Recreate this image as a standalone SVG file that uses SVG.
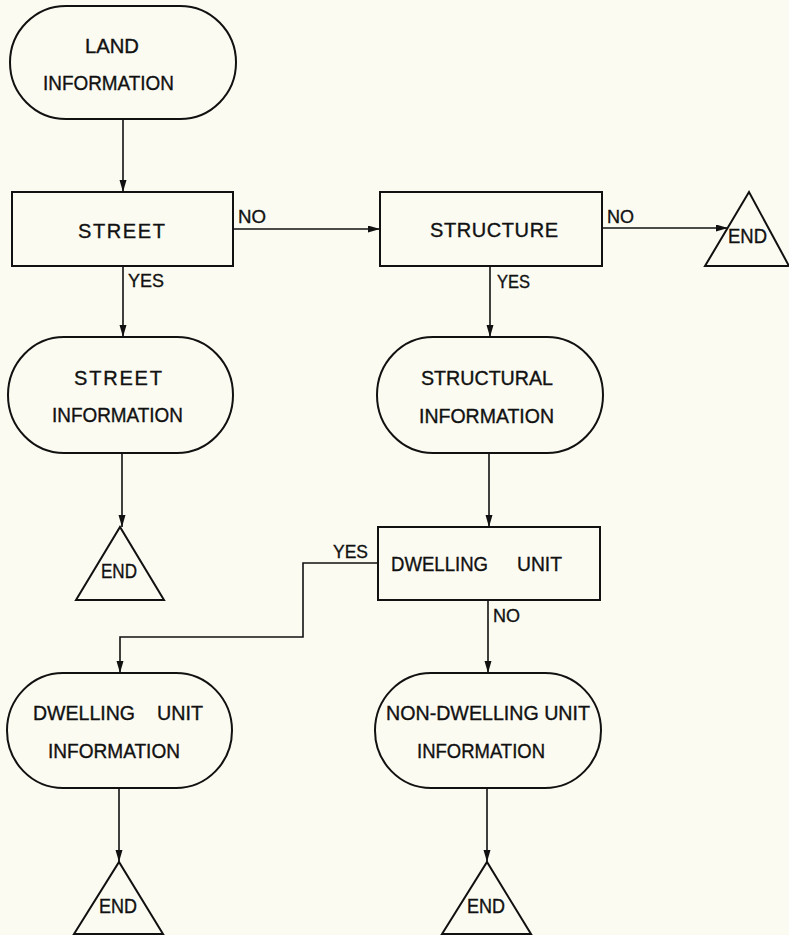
<svg xmlns="http://www.w3.org/2000/svg" width="789" height="935" viewBox="0 0 789 935">
<style>
.bg{fill:#fbfbf1}
.shape{fill:none;stroke:#111;stroke-width:2}
.line{fill:none;stroke:#111;stroke-width:1.6}
text{font-family:"Liberation Sans","DejaVu Sans",Arial,sans-serif;fill:#111;stroke:#111;stroke-width:0.35;font-size:20px}
.lbl{font-size:19px}
</style>
<defs>
<marker id="arr" markerUnits="userSpaceOnUse" markerWidth="13" markerHeight="8" refX="12" refY="3.5" orient="auto">
<path d="M0,0 L12,3.5 L0,7 z" fill="#111"/>
</marker>
</defs>
<rect class="bg" x="0" y="0" width="789" height="935"/>

<g id="connectors">
<path class="line" d="M123,119 V192" marker-end="url(#arr)"/>
<path class="line" d="M123,266 V337" marker-end="url(#arr)"/>
<path class="line" d="M233,229 H380" marker-end="url(#arr)"/>
<path class="line" d="M602,228 H728" marker-end="url(#arr)"/>
<path class="line" d="M490,266 V337" marker-end="url(#arr)"/>
<path class="line" d="M122,453 V527" marker-end="url(#arr)"/>
<path class="line" d="M489,453 V527" marker-end="url(#arr)"/>
<path class="line" d="M378,563 H303 V637 H120 V673" marker-end="url(#arr)"/>
<path class="line" d="M488,600 V673" marker-end="url(#arr)"/>
<path class="line" d="M119,788 V862" marker-end="url(#arr)"/>
<path class="line" d="M487,788 V862" marker-end="url(#arr)"/>
<text class="lbl" x="238" y="223" textLength="28" lengthAdjust="spacingAndGlyphs">NO</text>
<text class="lbl" x="128" y="287" textLength="36" lengthAdjust="spacingAndGlyphs">YES</text>
<text class="lbl" x="607" y="223" textLength="27" lengthAdjust="spacingAndGlyphs">NO</text>
<text class="lbl" x="497" y="288" textLength="33" lengthAdjust="spacingAndGlyphs">YES</text>
<text class="lbl" x="333" y="558" textLength="35" lengthAdjust="spacingAndGlyphs">YES</text>
<text class="lbl" x="493" y="622" textLength="27" lengthAdjust="spacingAndGlyphs">NO</text>
</g>

<g id="land-information">
<rect class="shape" x="10" y="6" width="226" height="113" rx="56" ry="56.5"/>
<text x="85" y="53" textLength="54" lengthAdjust="spacingAndGlyphs">LAND</text>
<text x="43" y="90" textLength="131" lengthAdjust="spacingAndGlyphs">INFORMATION</text>
</g>

<g id="street">
<rect class="shape" x="12" y="192" width="221" height="74"/>
<text x="78" y="238" textLength="87" lengthAdjust="spacing">STREET</text>
</g>

<g id="structure">
<rect class="shape" x="380" y="192" width="222" height="74"/>
<text x="430" y="237" textLength="128" lengthAdjust="spacing">STRUCTURE</text>
</g>

<g id="end-structure">
<path class="shape" d="M705,266 L749,192 L789,266 Z"/>
<text x="728" y="243" textLength="39" lengthAdjust="spacingAndGlyphs">END</text>
</g>

<g id="street-information">
<rect class="shape" x="8" y="337" width="225" height="116" rx="56" ry="58"/>
<text x="74" y="385" textLength="88" lengthAdjust="spacing">STREET</text>
<text x="52" y="422" textLength="131" lengthAdjust="spacingAndGlyphs">INFORMATION</text>
</g>

<g id="structural-information">
<rect class="shape" x="377" y="337" width="226" height="116" rx="56" ry="58"/>
<text x="421" y="385" textLength="132" lengthAdjust="spacingAndGlyphs">STRUCTURAL</text>
<text x="419" y="423" textLength="135" lengthAdjust="spacingAndGlyphs">INFORMATION</text>
</g>

<g id="end-street">
<path class="shape" d="M76,600 L120,527 L164,600 Z"/>
<text x="101" y="578" textLength="36" lengthAdjust="spacingAndGlyphs">END</text>
</g>

<g id="dwelling-unit">
<rect class="shape" x="378" y="527" width="222" height="73"/>
<text y="571"><tspan x="391" textLength="97" lengthAdjust="spacingAndGlyphs">DWELLING</tspan><tspan x="517" textLength="45" lengthAdjust="spacingAndGlyphs">UNIT</tspan></text>
</g>

<g id="dwelling-unit-information">
<rect class="shape" x="7" y="673" width="225" height="115" rx="56" ry="57.5"/>
<text y="720"><tspan x="33" textLength="102" lengthAdjust="spacingAndGlyphs">DWELLING</tspan><tspan x="157" textLength="46" lengthAdjust="spacingAndGlyphs">UNIT</tspan></text>
<text x="48" y="758" textLength="132" lengthAdjust="spacingAndGlyphs">INFORMATION</text>
</g>

<g id="non-dwelling-unit-information">
<rect class="shape" x="375" y="673" width="226" height="115" rx="56" ry="57.5"/>
<text x="386" y="720" textLength="204" lengthAdjust="spacingAndGlyphs">NON-DWELLING UNIT</text>
<text x="417" y="758" textLength="128" lengthAdjust="spacingAndGlyphs">INFORMATION</text>
</g>

<g id="end-dwelling">
<path class="shape" d="M74,934 L119,862 L163,934 Z"/>
<text x="99" y="913" textLength="38" lengthAdjust="spacingAndGlyphs">END</text>
</g>

<g id="end-non-dwelling">
<path class="shape" d="M442,934 L487,862 L531,934 Z"/>
<text x="467" y="913" textLength="38" lengthAdjust="spacingAndGlyphs">END</text>
</g>
</svg>
